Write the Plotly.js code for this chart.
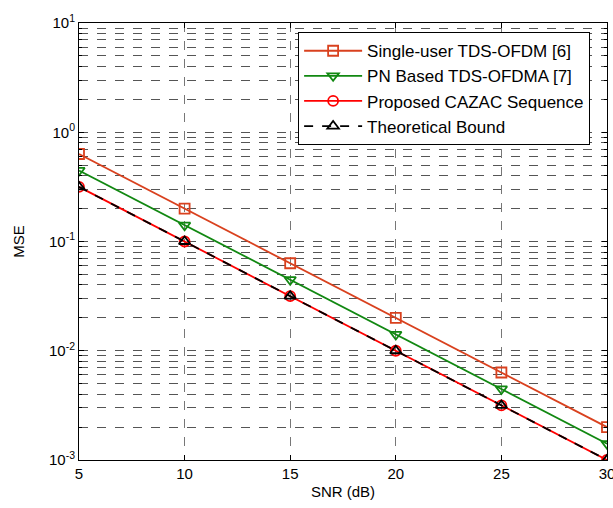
<!DOCTYPE html>
<html><head><meta charset="utf-8">
<script src="https://cdn.plot.ly/plotly-3.0.1.min.js"></script>
<style>html,body{margin:0;padding:0;background:#fff;}#chart{width:613px;height:508px;}</style>
</head><body><div id="chart"></div>
<script>
const snr = [5, 10, 15, 20, 25, 30];
const singleUser = [0.632, 0.2, 0.0632, 0.02, 0.00632, 0.002];
const pnBased = [0.447, 0.141, 0.0447, 0.0141, 0.00447, 0.00141];
const proposed = [0.316, 0.1, 0.0316, 0.01, 0.00316, 0.001];
const theory = [0.316, 0.1, 0.0316, 0.01, 0.00316, 0.001];
const names = ['Single-user TDS-OFDM [6]', 'PN Based TDS-OFDMA [7]', 'Proposed CAZAC Sequence', 'Theoretical Bound'];
const yTickVals = [0.001, 0.01, 0.1, 1, 10];
const yTickText = ['10<sup>-3</sup>', '10<sup>-2</sup>', '10<sup>-1</sup>', '10<sup>0</sup>', '10<sup>1</sup>'];

const mk = (y, name, color, symbol, dash) => ({
  x: snr, y: y, name: name, type: 'scatter', mode: 'lines+markers',
  line: {color: color, width: 1.8, dash: dash},
  marker: {symbol: symbol, size: 10, color: color, line: {color: color, width: 1.8}}
});
const traces = [
  mk(singleUser, names[0], '#d9411e', 'square-open', 'solid'),
  mk(pnBased, names[1], '#118811', 'triangle-down-open', 'solid'),
  mk(proposed, names[2], '#ff0000', 'circle-open', 'solid'),
  mk(theory, names[3], '#000000', 'triangle-up-open', 'dash')
];
const ff = 'Liberation Sans, Arial, sans-serif';
const font = {family: ff, size: 14, color: '#000'};
const layout = {
  width: 613, height: 508,
  margin: {l: 79, r: 6, t: 23, b: 48},
  paper_bgcolor: '#fff', plot_bgcolor: '#fff',
  font: font, showlegend: true,
  xaxis: {
    range: [5, 30], tickvals: snr, ticks: 'inside', ticklen: 5, tickcolor: '#000',
    showline: true, linecolor: '#000', linewidth: 1, mirror: 'ticks',
    showgrid: true, gridcolor: '#777', griddash: 'dash', gridwidth: 1, zeroline: false,
    ticklabeloverflow: 'allow',
    title: {text: 'SNR (dB)', font: {family: ff, size: 15, color: '#000'}, standoff: 5}, tickfont: {size: 15}
  },
  yaxis: {
    type: 'log', range: [-3, 1], tickvals: yTickVals, ticktext: yTickText,
    ticks: 'inside', ticklen: 5, tickcolor: '#000',
    showline: true, linecolor: '#000', linewidth: 1, mirror: 'ticks',
    showgrid: true, gridcolor: '#555', griddash: 'dash', gridwidth: 1, zeroline: false,
    minor: {dtick: 'D1', showgrid: true, gridcolor: '#555', griddash: 'dash', ticks: 'inside', ticklen: 3, tickcolor: '#000'},
    title: {text: 'MSE', font: {family: ff, size: 15, color: '#000'}, standoff: 20}, tickfont: {size: 15}
  },
  legend: {
    x: 0.415, y: 0.979, xanchor: 'left', yanchor: 'top',
    bgcolor: '#fff', bordercolor: '#000', borderwidth: 1,
    font: {family: ff, size: 17, color: '#000'},
    itemwidth: 58
  }
};
Plotly.newPlot('chart', traces, layout, {displayModeBar: false, staticPlot: true});
</script></body></html>
